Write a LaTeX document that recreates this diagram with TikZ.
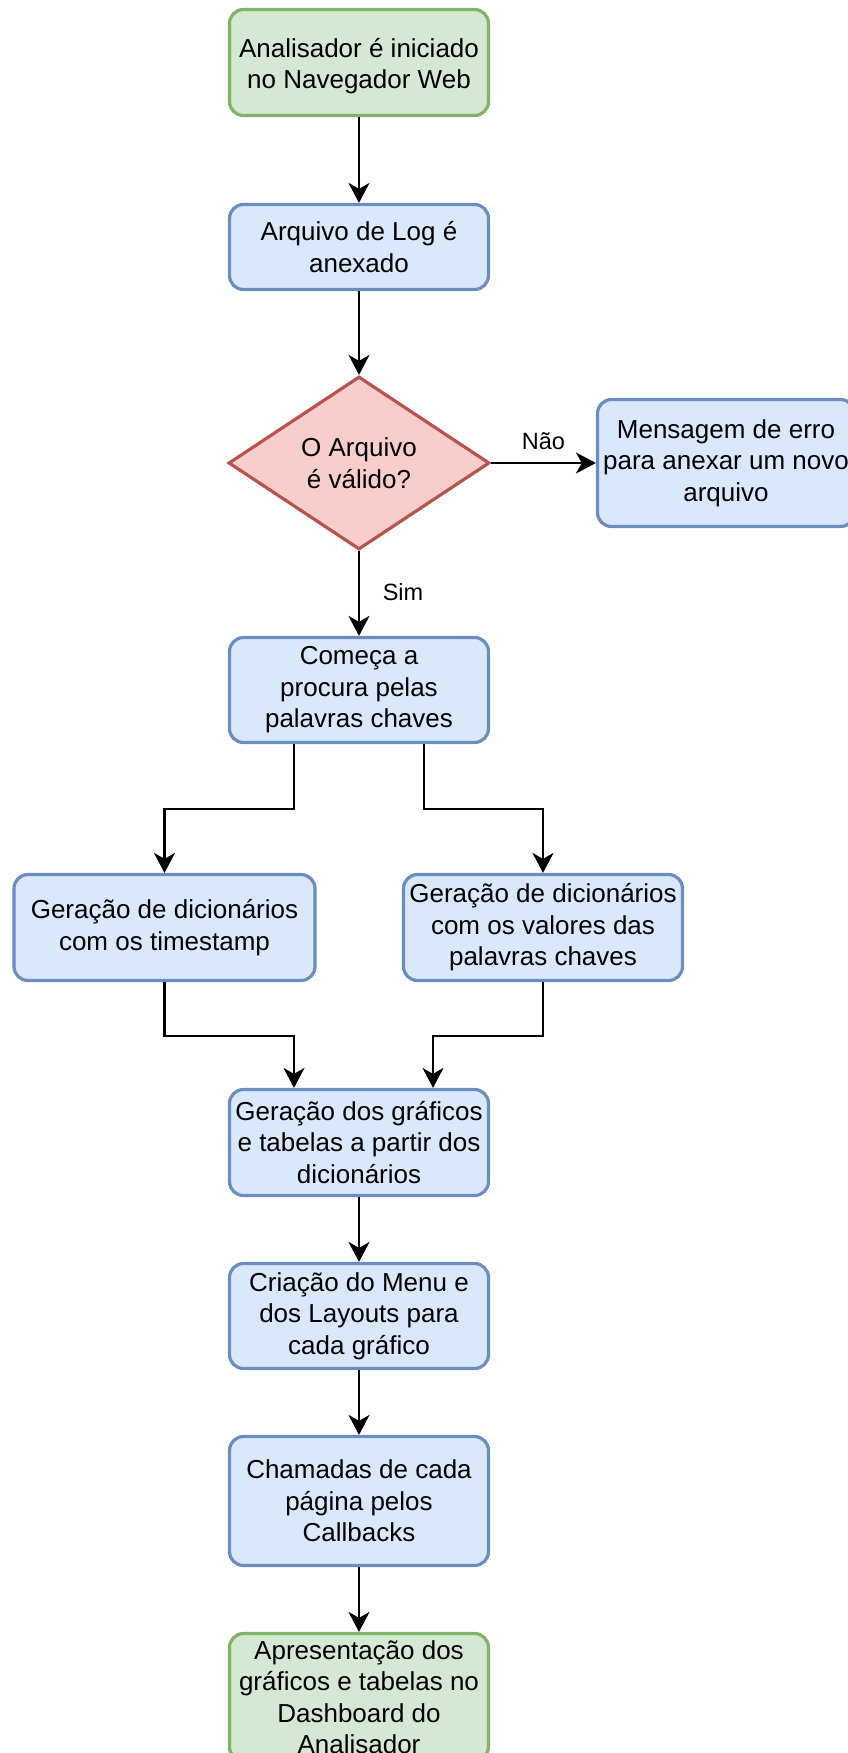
\documentclass[tikz,border=0pt]{standalone}
\usepackage{fontspec}
\setmainfont{Liberation Sans}
\usetikzlibrary{shapes.geometric,arrows.meta}

\definecolor{greenfill}{HTML}{D5E8D4}
\definecolor{greenline}{HTML}{82B366}
\definecolor{bluefill}{HTML}{DAE8FC}
\definecolor{blueline}{HTML}{6C8EBF}
\definecolor{redfill}{HTML}{F8CECC}
\definecolor{redline}{HTML}{B85450}

\tikzset{
  stepbox/.style={draw=blueline, fill=bluefill, line width=3.2pt,
    rounded corners=14pt, inner sep=0pt, align=center,
    font=\fontsize{26}{31.5}\selectfont},
  startbox/.style={stepbox, draw=greenline, fill=greenfill},
  decision/.style={shape=diamond, draw=redline, fill=redfill, line width=3.2pt,
    inner sep=0pt, aspect=1.5, align=center,
    font=\fontsize{26}{31.5}\selectfont},
  arr/.style={draw=black, line width=2.2pt,
    -{Stealth[length=20pt,width=21pt,inset=6pt]}},
  edgelabel/.style={font=\fontsize{23.5}{28}\selectfont, inner sep=0pt}
}

\begin{document}
\begin{tikzpicture}[x=1pt,y=-1pt]
\useasboundingbox (0,0) rectangle (848,1753);

% main column
\node[startbox, minimum width=259pt, minimum height=106pt] (start) at (359,62.5)
  {\raisebox{-4pt}[\height][\depth]{\begin{tabular}{@{}c@{}}Analisador é iniciado\\no Navegador Web\end{tabular}}};
\node[stepbox, minimum width=259pt, minimum height=85pt] (attach) at (359,247)
  {Arquivo de Log é\\anexado};
\node[decision, minimum width=261pt, minimum height=173pt] (valid) at (359,463)
  {O Arquivo\\é válido?};
\node[stepbox, minimum width=257pt, minimum height=127pt] (error) at (726,463)
  {Mensagem de erro\\para anexar um novo\\arquivo};
\node[stepbox, minimum width=259pt, minimum height=105pt] (search) at (359,690)
  {Começa a\\procura pelas\\palavras chaves};

% the two dictionaries
\node[stepbox, minimum width=301pt, minimum height=106pt] (dictL) at (164.5,927.5)
  {Geração de dicionários\\com os timestamp};
\node[stepbox, minimum width=279pt, minimum height=106pt] (dictR) at (543,927.5)
  {Geração de dicionários\\com os valores das\\palavras chaves};

% output steps
\node[stepbox, minimum width=259pt, minimum height=106pt] (charts) at (359,1142.5)
  {Geração dos gráficos\\e tabelas a partir dos\\dicionários};
\node[stepbox, minimum width=259pt, minimum height=105pt] (menu) at (359,1316)
  {Criação do Menu e\\dos Layouts para\\cada gráfico};
\node[stepbox, minimum width=259pt, minimum height=129pt] (calls) at (359,1501)
  {Chamadas de cada\\página pelos\\Callbacks};
\node[startbox, minimum width=259pt, minimum height=127pt] (show) at (359,1697)
  {Apresentação dos\\gráficos e tabelas no\\Dashboard do\\Analisador};

% connectors
\draw[arr] (start) -- (attach);
\draw[arr] (attach) -- (valid);
\draw[arr] (valid.east) -- (error.west);
\node[edgelabel] (nao) at (543.5,441) {Não};
\draw[arr] (valid.south) -- (search.north);
\node[edgelabel] (sim) at (403,592) {Sim};

\draw[arr] ([xshift=-65pt]search.south) -- ++(0,65) -| (dictL.north);
\draw[arr] ([xshift=65pt]search.south) -- ++(0,65) -| (dictR.north);
\draw[arr] (dictL.south) -- ++(0,54) -| ([xshift=-65pt]charts.north);
\draw[arr] (dictR.south) -- ++(0,54) -| ([xshift=74pt]charts.north);

\draw[arr] (charts) -- (menu);
\draw[arr] (menu) -- (calls);
\draw[arr] (calls) -- (show);
\end{tikzpicture}
\end{document}
